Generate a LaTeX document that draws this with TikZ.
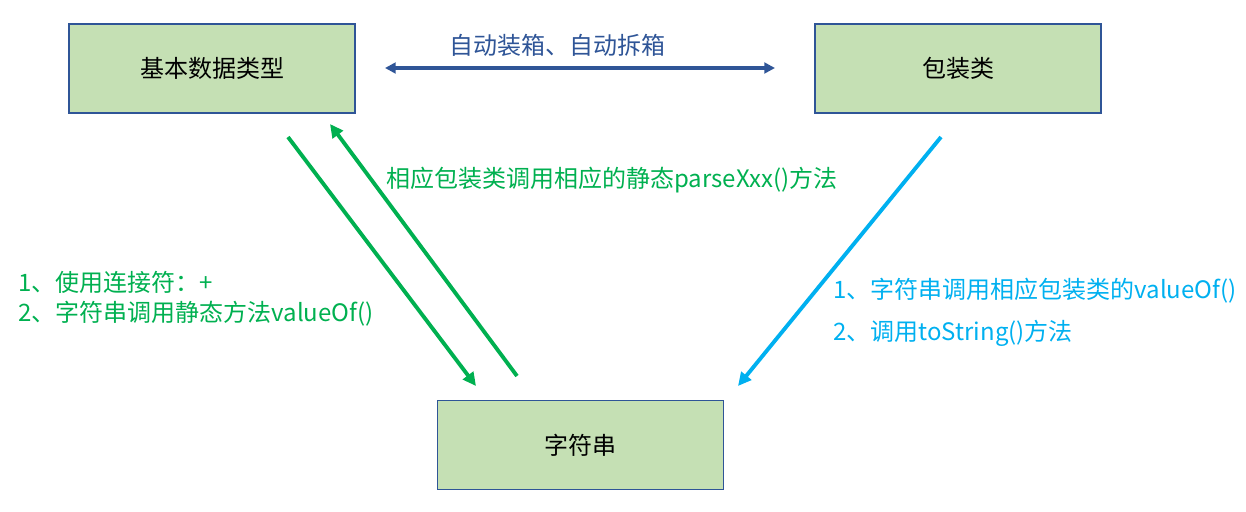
\documentclass[tikz,border=0pt]{standalone}
\usepackage{fontspec}
\setmainfont{Noto Sans CJK SC}
\usetikzlibrary{arrows.meta}
\definecolor{boxfill}{HTML}{C5E0B4}
\definecolor{boxline}{HTML}{2F5597}
\definecolor{grn}{HTML}{00B050}
\definecolor{sky}{HTML}{00B0F0}
\begin{document}
\begin{tikzpicture}[x=0.75pt,y=-0.75pt,
  box/.style={draw=boxline,line width=0.9pt,fill=boxfill,minimum width=286*0.75pt,minimum height=89*0.75pt,inner sep=0pt,font=\fontsize{18}{22}\selectfont},
  lbl/.style={anchor=west,inner sep=0pt,font=\fontsize{18}{22}\selectfont},
  arr/.style={line width=2.9pt,-{Triangle[length=10pt,width=9.5pt]}},
  darr/.style={line width=2.6pt,{Triangle[length=8pt,width=8pt]}-{Triangle[length=8pt,width=8pt]}}]
\useasboundingbox (0,0) rectangle (1246,511);
\node[box] (basic) at (212,68.5) {基本数据类型};
\node[box] (wrap) at (958,68.5) {包装类};
\node[box] (str) at (580.5,445) {字符串};
\coordinate (ta) at (385,68);
\coordinate (tb) at (775,68);
\draw[darr,draw=boxline,fill=boxline] (ta) -- (tb);
\node[lbl,text=boxline] (t1) at (449,45) {自动装箱、自动拆箱};
\coordinate (g1s) at (288,137);
\coordinate (g1e) at (476,386);
\coordinate (g2s) at (517,376);
\coordinate (g2e) at (330,124);
\draw[arr,draw=grn,fill=grn] (g1s) -- (g1e);
\draw[arr,draw=grn,fill=grn] (g2s) -- (g2e);
\coordinate (bs) at (941,137);
\coordinate (be) at (738,386);
\draw[arr,draw=sky,fill=sky] (bs) -- (be);
\node[lbl,text=grn] (t2) at (386,180) {相应包装类调用相应的静态parseXxx()方法};
\node[lbl,text=grn] (t3) at (18,282) {1、使用连接符：+};
\node[lbl,text=grn] (t4) at (18,314) {2、字符串调用静态方法valueOf()};
\node[lbl,text=sky] (t5) at (833,291) {1、字符串调用相应包装类的valueOf()};
\node[lbl,text=sky] (t6) at (833,333) {2、调用toString()方法};
\end{tikzpicture}
\end{document}
